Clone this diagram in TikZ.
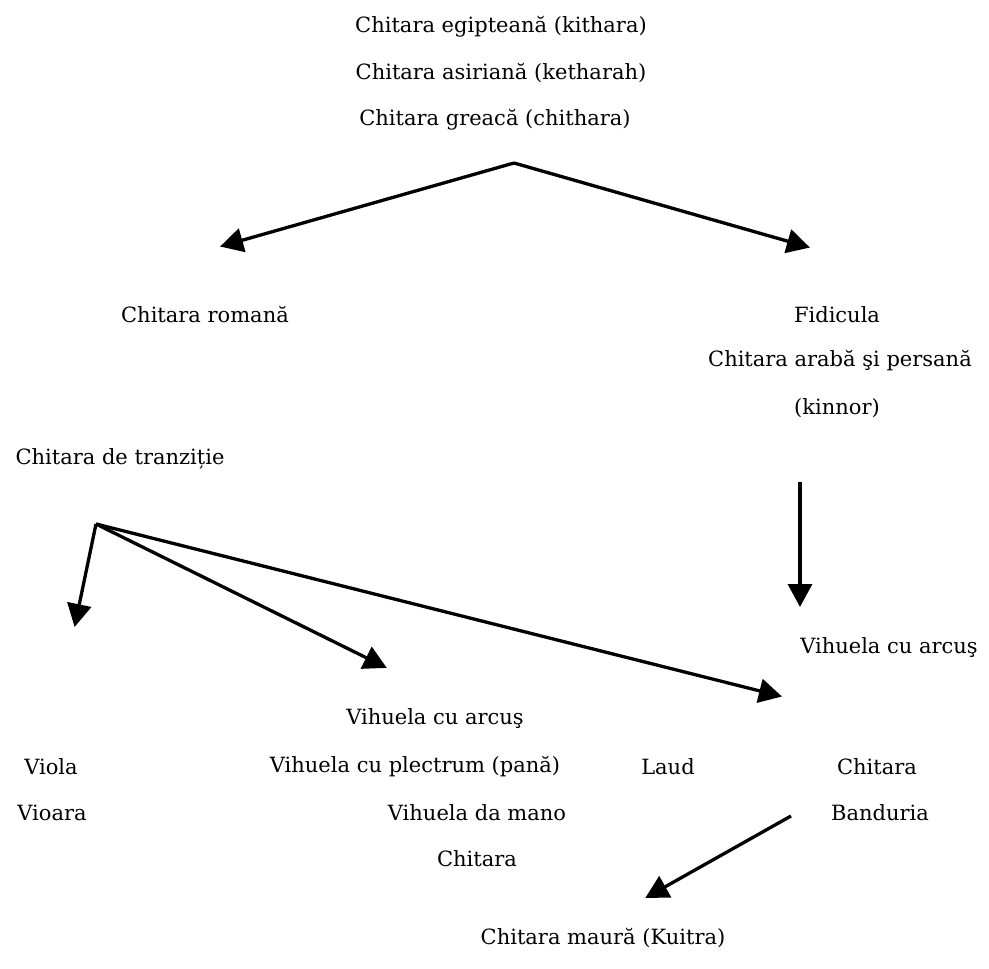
\documentclass[tikz,border=0pt]{standalone}
\usepackage{fontspec}
\setmainfont{DejaVu Serif}
\usetikzlibrary{arrows.meta}
\begin{document}
\begin{tikzpicture}[x=1pt,y=-1pt,
  lbl/.style={inner sep=0pt,anchor=center,font=\fontsize{21}{25}\selectfont},
  arr/.style={line width=3.3pt,-{Triangle[length=23pt,width=24pt]},shorten >=-2pt}]
\useasboundingbox (0,0) rectangle (989,969);
% texts
\node[lbl] (t1) at (501,27) {Chitara egipteană (kithara)};
\node[lbl] (t2) at (501,73) {Chitara asiriană (ketharah)};
\node[lbl] (t3) at (495,120) {Chitara greacă (chithara)};
\node[lbl] (rom) at (205,315) {Chitara romană};
\node[lbl] (fid) at (837,315) {Fidicula};
\node[lbl] (arab) at (840,361) {Chitara arabă şi persană};
\node[lbl] (kin) at (837,408) {(kinnor)};
\node[lbl] (tranz) at (120,459) {Chitara de tranziție};
\node[lbl] (vihR) at (889,648) {Vihuela cu arcuş};
\node[lbl] (vih1) at (435,719) {Vihuela cu arcuş};
\node[lbl] (vih2) at (415,767) {Vihuela cu plectrum (pană)};
\node[lbl] (vih3) at (477,813) {Vihuela da mano};
\node[lbl] (chit1) at (477,859) {Chitara};
\node[lbl] (viola) at (51,767) {Viola};
\node[lbl] (vioara) at (52,813) {Vioara};
\node[lbl] (laud) at (668,767) {Laud};
\node[lbl] (chit2) at (877,767) {Chitara};
\node[lbl] (band) at (880,813) {Banduria};
\node[lbl] (maura) at (603,938) {Chitara maură (Kuitra)};
% arrow points
\coordinate (apex) at (514,163);
\coordinate (eL) at (222,246);
\coordinate (eR) at (808,247);
\coordinate (vS) at (800,482);
\coordinate (vE) at (800,605);
\coordinate (tA) at (96,524);
\coordinate (e1) at (75,625);
\coordinate (e2) at (385,667);
\coordinate (e3) at (780,696);
\coordinate (bS) at (791,816);
\coordinate (bE) at (647,897);
% arrows
\draw[arr,line join=miter] (apex) -- (eL);
\draw[arr] (apex) -- (eR);
\draw[arr] (vS) -- (vE);
\draw[arr] (tA) -- (e1);
\draw[arr] (tA) -- (e2);
\draw[arr] (tA) -- (e3);
\draw[arr] (bS) -- (bE);
\end{tikzpicture}
\end{document}
